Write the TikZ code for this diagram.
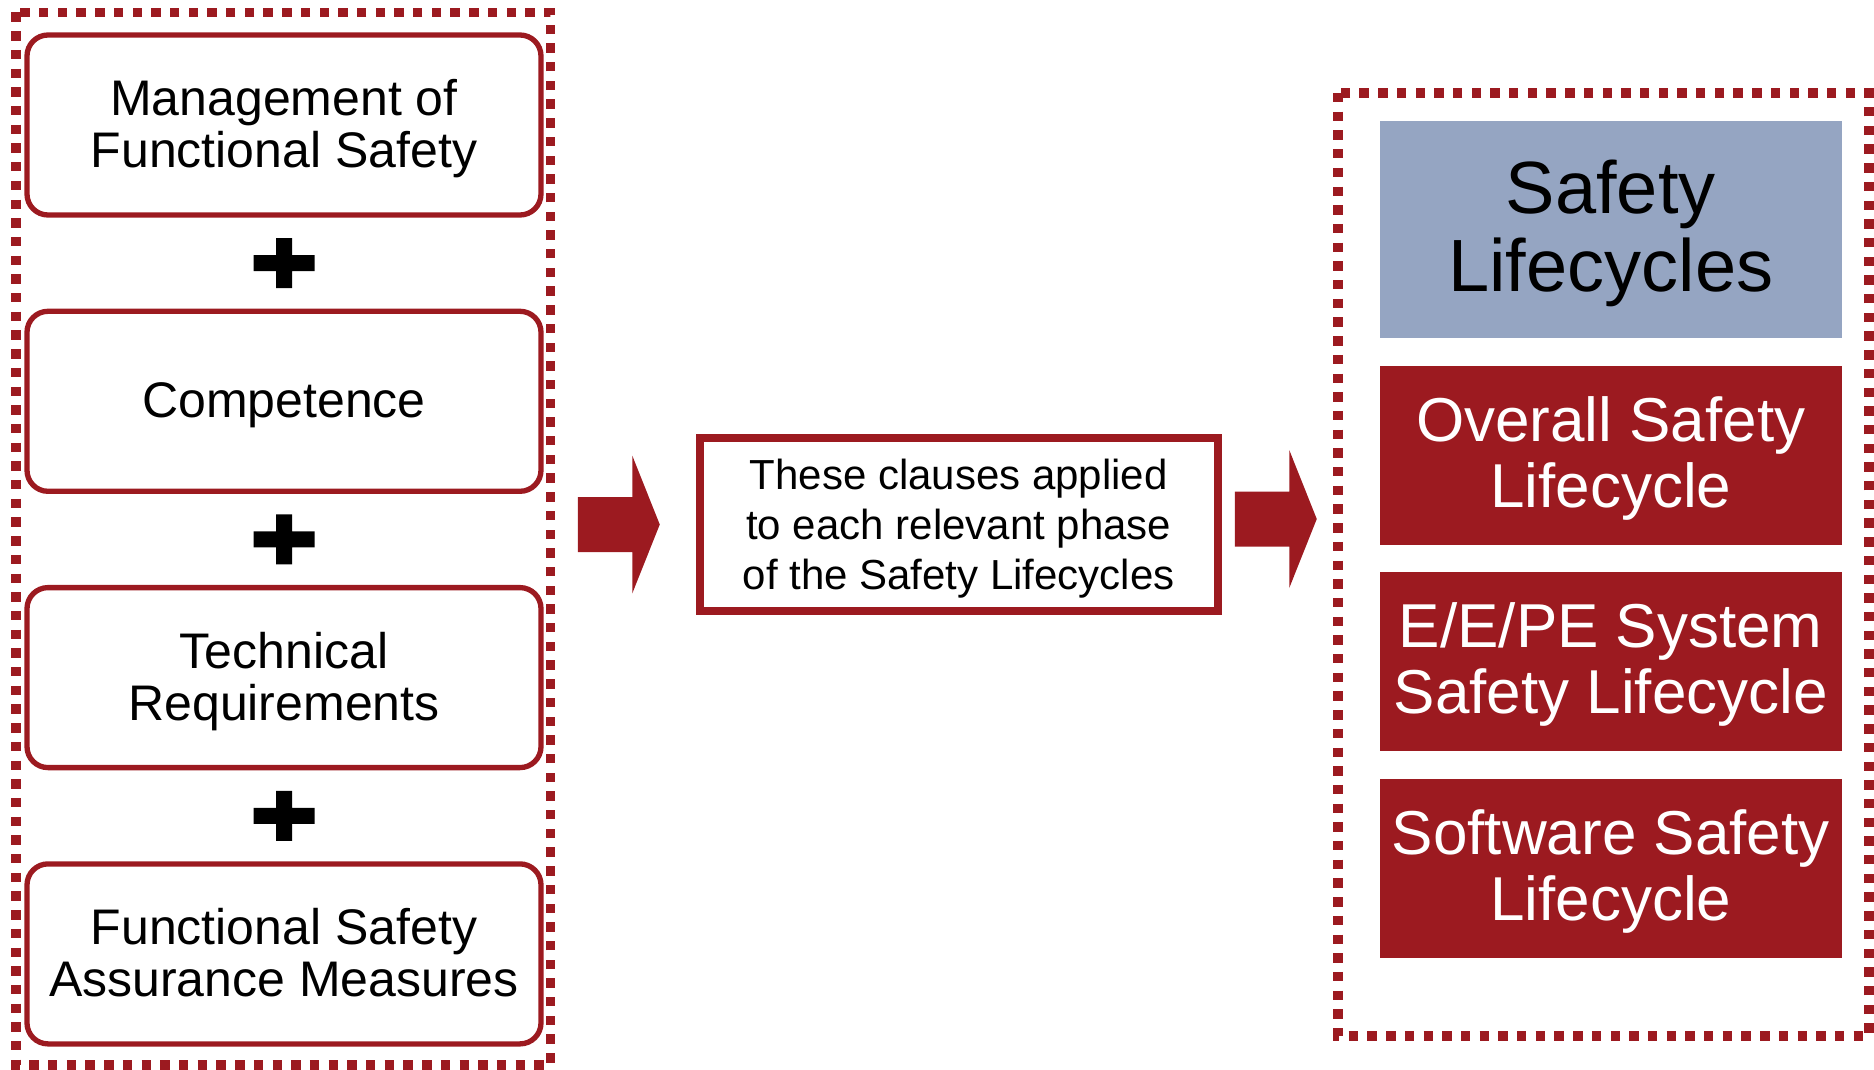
\documentclass[tikz,border=0pt]{standalone}
\usepackage{fontspec}
\setmainfont{Liberation Sans}
\usepackage{tikz}
\usetikzlibrary{positioning,calc}

\definecolor{sfred}{RGB}{156,26,32}
\definecolor{sfblue}{RGB}{149,165,194}

\begin{document}
\begin{tikzpicture}[
  x=0.5pt, y=-0.5pt,
  clausebox/.style={draw=sfred, line width=2.65pt, rounded corners=10.5pt, align=center,
    minimum width=257pt, minimum height=90pt, inner sep=0pt,
    font=\fontsize{25}{26}\selectfont, text depth=1.5pt},
  applybox/.style={draw=sfred, line width=4pt, align=center, inner sep=0pt,
    minimum width=259pt, minimum height=86.5pt, font=\fontsize{21}{25}\selectfont,
    text depth=0.5pt},
  cyclebox/.style={fill=sfred, text=white, align=center, inner sep=0pt, outer sep=0pt,
    minimum width=230.75pt, minimum height=89.5pt, font=\fontsize{31}{33}\selectfont,
    text depth=3pt},
  headbox/.style={cyclebox, fill=sfblue, text=black, minimum height=108.5pt,
    font=\fontsize{37}{39}\selectfont, text depth=4pt},
  dotframe/.style={draw=sfred, line width=4.7pt, dash pattern=on 4.7pt off 4.65pt},
  blockarr/.style={fill=sfred}
]
\useasboundingbox (0,0) rectangle (1874,1070);

% requirement clauses
\node[clausebox] (mfs) at (284,125) {Management of\\Functional Safety};
\node[clausebox, below=45.5pt of mfs] (comp) {Competence};
\node[clausebox, below=45.5pt of comp] (tech) {Technical\\Requirements};
\node[clausebox, below=45.5pt of tech] (fsam) {Functional Safety\\Assurance Measures};

\foreach \u/\v in {mfs/comp, comp/tech, tech/fsam}
  \fill ($(\u.south)!0.5!(\v.north)$) ++(-30.5,-8) rectangle ++(61,16)
        ($(\u.south)!0.5!(\v.north)$) ++(-8,-25) rectangle ++(16,50);

\draw[dotframe] (16,12.5) rectangle (550.5,1065);

% application
\node[applybox] (apply) at (958.75,524.5) {These clauses applied\\to each relevant phase\\of the Safety Lifecycles};

% lifecycles
\node[headbox] (slc) at (1610.75,229.5) {Safety\\Lifecycles};
\node[cyclebox, below=13.75pt of slc] (overall) {Overall Safety\\Lifecycle};
\node[cyclebox, below=13.75pt of overall] (eepe) {E/E/PE System\\Safety Lifecycle};
\node[cyclebox, below=13.75pt of eepe] (sw) {Software Safety\\Lifecycle};

\draw[dotframe] (1338,93) rectangle (1869,1036);

% block arrows
\coordinate (tipA) at ($(apply.west)+(-36,0)$);
\coordinate (tipB) at ($(apply.east)+(95,-5.5)$);
\foreach \t in {tipA,tipB}
  \fill[blockarr] (\t) -- ++(-27.5,-69) -- ++(0,41.5) -- ++(-54.5,0) -- ++(0,55)
    -- ++(54.5,0) -- ++(0,41.5) -- cycle;
\end{tikzpicture}
\end{document}
